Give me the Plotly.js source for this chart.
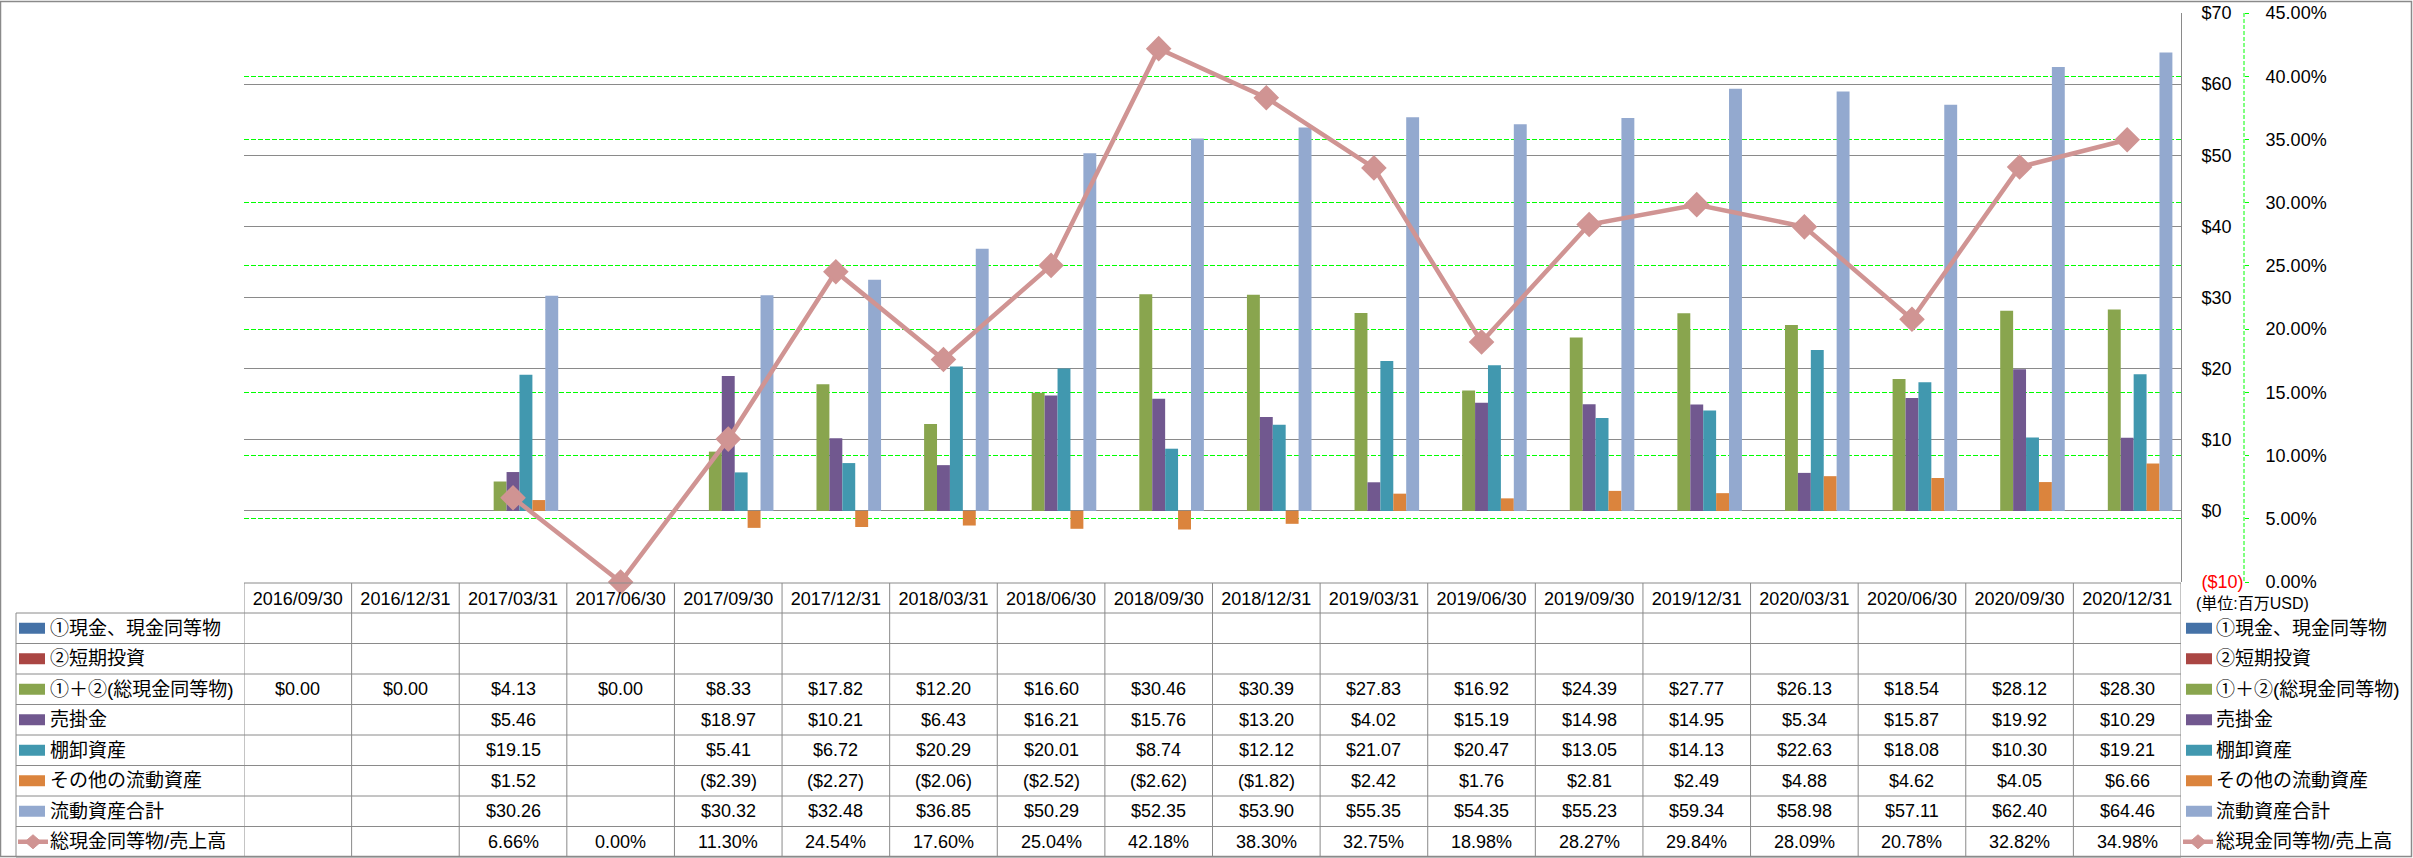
<!DOCTYPE html>
<html>
<head>
<meta charset="utf-8">
<script src="https://cdn.plot.ly/plotly-3.0.1.min.js"></script>
<style>html,body{margin:0;padding:0;background:#fff;}#chart{width:2413px;height:858px;}</style>
</head>
<body>
<div id="chart"></div>
<script>
// ---------- data ----------
const categories = ['2016/09/30','2016/12/31','2017/03/31','2017/06/30','2017/09/30','2017/12/31','2018/03/31','2018/06/30','2018/09/30','2018/12/31','2019/03/31','2019/06/30','2019/09/30','2019/12/31','2020/03/31','2020/06/30','2020/09/30','2020/12/31'];
const cashEquivalents      = [null,null,null,null,null,null,null,null,null,null,null,null,null,null,null,null,null,null];
const shortTermInvestments = [null,null,null,null,null,null,null,null,null,null,null,null,null,null,null,null,null,null];
const totalCash      = [0.00,0.00,4.13,0.00,8.33,17.82,12.20,16.60,30.46,30.39,27.83,16.92,24.39,27.77,26.13,18.54,28.12,28.30];
const receivables    = [null,null,5.46,null,18.97,10.21,6.43,16.21,15.76,13.20,4.02,15.19,14.98,14.95,5.34,15.87,19.92,10.29];
const inventory      = [null,null,19.15,null,5.41,6.72,20.29,20.01,8.74,12.12,21.07,20.47,13.05,14.13,22.63,18.08,10.30,19.21];
const otherCurrent   = [null,null,1.52,null,-2.39,-2.27,-2.06,-2.52,-2.62,-1.82,2.42,1.76,2.81,2.49,4.88,4.62,4.05,6.66];
const totalCurrent   = [null,null,30.26,null,30.32,32.48,36.85,50.29,52.35,53.90,55.35,54.35,55.23,59.34,58.98,57.11,62.40,64.46];
const cashToSales    = [null,null,6.66,0.00,11.30,24.54,17.60,25.04,42.18,38.30,32.75,18.98,28.27,29.84,28.09,20.78,32.82,34.98];

const barNames  = ['①現金、現金同等物','②短期投資','①＋②(総現金同等物)','売掛金','棚卸資産','その他の流動資産','流動資産合計'];
const barValues = [cashEquivalents, shortTermInvestments, totalCash, receivables, inventory, otherCurrent, totalCurrent];
const barColors = ['#4572A7','#AA4643','#89A54E','#71588F','#4198AF','#DB843D','#93A9CF'];
const lineName  = '総現金同等物/売上高';
const lineColor = '#D09493';
const usdTicks  = [-10,0,10,20,30,40,50,60,70];
const unitLabel = '(単位:百万USD)';

// ---------- layout helpers ----------
const W = 2413, H = 858;
const px = x => x / W;
const py = y => 1 - y / H;
const FONT = "'Liberation Sans', 'Noto Sans CJK JP', sans-serif";
const plotL = 244, plotR = 2181, plotT = 13, plotB = 582;
const tableTop = 583, headerB = 613, rowH = 30.5, labelL = 16;
const y2Pos = 2244;
const gray = '#8a8a8a';
const green = '#00FF00';

function fmtUSD(v){
  if (v === null || v === undefined) return '';
  return v < 0 ? '($' + Math.abs(v).toFixed(2) + ')' : '$' + v.toFixed(2);
}
function fmtPct(v){
  if (v === null || v === undefined) return '';
  return v.toFixed(2) + '%';
}

// ---------- traces ----------
const traces = barValues.map((vals, i) => ({
  type: 'bar', name: barNames[i], x: categories, y: vals,
  marker: {color: barColors[i]}, showlegend: false, hoverinfo: 'x+y+name'
}));
traces.push({
  type: 'scatter', mode: 'lines+markers', name: lineName, x: categories, y: cashToSales,
  yaxis: 'y2', cliponaxis: false, showlegend: false,
  line: {color: lineColor, width: 4.5},
  marker: {symbol: 'diamond', size: 17, color: lineColor, line: {color: lineColor, width: 2.5}}
});

// ---------- table, keys, legend ----------
const shapes = [];
const annotations = [];

// outer border
shapes.push({type:'rect', xref:'paper', yref:'paper', x0:px(0.5), x1:px(2411.5), y0:py(1.5), y1:py(856.5), line:{color:gray, width:1.5}, layer:'below'});

const nRows = barNames.length + 1;
const tableBottom = headerB + nRows * rowH;
// horizontal table lines
shapes.push({type:'line', xref:'paper', yref:'paper', x0:px(plotL), x1:px(plotR), y0:py(tableTop), y1:py(tableTop), line:{color:gray, width:1}});
for (let r = 0; r <= nRows; r++){
  const y = headerB + r * rowH;
  shapes.push({type:'line', xref:'paper', yref:'paper', x0:px(labelL), x1:px(plotR), y0:py(y), y1:py(y), line:{color:gray, width:1}});
}
// vertical table lines (category boundaries)
for (let k = 0; k <= categories.length; k++){
  shapes.push({type:'line', xref:'x', yref:'paper', x0:k-0.5, x1:k-0.5, y0:py(tableTop), y1:py(tableBottom), line:{color:gray, width:1}});
}
shapes.push({type:'line', xref:'paper', yref:'paper', x0:px(labelL), x1:px(labelL), y0:py(headerB), y1:py(tableBottom), line:{color:gray, width:1}});
// secondary axis dashed line
shapes.push({type:'line', xref:'paper', yref:'paper', x0:px(y2Pos), x1:px(y2Pos), y0:py(plotT), y1:py(plotB), line:{color:green, width:1, dash:'4px,2px'}});

function rectKey(x, cy, color){
  shapes.push({type:'rect', xref:'paper', yref:'paper', x0:px(x), x1:px(x+26), y0:py(cy-5.5), y1:py(cy+5.5), fillcolor:color, line:{width:0}});
}
function lineKey(x, cy, color){
  shapes.push({type:'line', xref:'paper', yref:'paper', x0:px(x), x1:px(x+30), y0:py(cy), y1:py(cy), line:{color:color, width:4.5}});
  const cx = x + 15;
  const path = 'M ' + px(cx-8) + ',' + py(cy) + ' L ' + px(cx) + ',' + py(cy-7) + ' L ' + px(cx+8) + ',' + py(cy) + ' L ' + px(cx) + ',' + py(cy+7) + ' Z';
  shapes.push({type:'path', xref:'paper', yref:'paper', path:path, fillcolor:color, line:{color:color, width:1}});
}

const rowNames = barNames.concat([lineName]);
const rowData = barValues.concat([cashToSales]);
for (let r = 0; r < nRows; r++){
  const cy = headerB + r * rowH + rowH/2;
  const isLine = r === nRows - 1;
  // left key + label
  if (isLine) lineKey(18, cy, lineColor); else rectKey(19, cy, barColors[r]);
  annotations.push({xref:'paper', yref:'paper', x:px(48), y:py(cy), xanchor:'left', yanchor:'middle', showarrow:false,
    text:rowNames[r], font:{family:FONT, size:19, color:'#000'}});
  // right legend
  if (isLine) lineKey(2183, cy, lineColor); else rectKey(2186, cy, barColors[r]);
  annotations.push({xref:'paper', yref:'paper', x:px(2214), y:py(cy), xanchor:'left', yanchor:'middle', showarrow:false,
    text:rowNames[r], font:{family:FONT, size:19, color:'#000'}});
  // values
  rowData[r].forEach((v, c) => {
    const t = isLine ? fmtPct(v) : fmtUSD(v);
    if (!t) return;
    annotations.push({xref:'x', yref:'paper', x:categories[c], y:py(cy), xanchor:'center', yanchor:'middle', showarrow:false,
      text:t, font:{family:FONT, size:18, color:'#000'}});
  });
}
annotations.push({xref:'paper', yref:'paper', x:px(2194), y:py(603), xanchor:'left', yanchor:'middle', showarrow:false,
  text:unitLabel, font:{family:FONT, size:16, color:'#000'}});

const layout = {
  width: W, height: H,
  margin: {l:0, r:0, t:0, b:0},
  paper_bgcolor: '#fff', plot_bgcolor: '#fff',
  showlegend: false,
  barmode: 'group', bargap: 0.16, bargroupgap: 0,
  font: {family: FONT, size: 18, color: '#000'},
  xaxis: {
    type: 'category', domain: [px(plotL), px(plotR)], range: [-0.5, categories.length - 0.5],
    showgrid: false, showline: false, zeroline: false, ticks: '',
    tickfont: {family: FONT, size: 18, color: '#000'}, ticklabelstandoff: 4, fixedrange: true
  },
  yaxis: {
    domain: [py(plotB), py(plotT)], range: [-10, 70], side: 'right',
    tickvals: usdTicks,
    ticktext: usdTicks.map(v => v < 0 ? '<span style="color:#FF0000">($' + Math.abs(v) + ')</span>' : '$' + v),
    showgrid: true, gridcolor: gray, gridwidth: 1, zeroline: false,
    showline: true, linecolor: gray, linewidth: 1, ticks: '',
    tickfont: {family: FONT, size: 18, color: '#000'}, ticklabelstandoff: 16
  },
  yaxis2: {
    overlaying: 'y', side: 'right', anchor: 'free', position: px(y2Pos),
    range: [0, 45], dtick: 5, tickformat: '.2f', ticksuffix: '%',
    showgrid: true, gridcolor: green, griddash: '5px,2px', gridwidth: 1, zeroline: false,
    showline: false, ticks: 'outside', ticklen: 4, tickcolor: green,
    tickfont: {family: FONT, size: 18, color: '#000'}, ticklabelstandoff: 13
  },
  shapes: shapes,
  annotations: annotations
};

Plotly.newPlot('chart', traces, layout, {displayModeBar: false, staticPlot: true});
</script>
</body>
</html>
